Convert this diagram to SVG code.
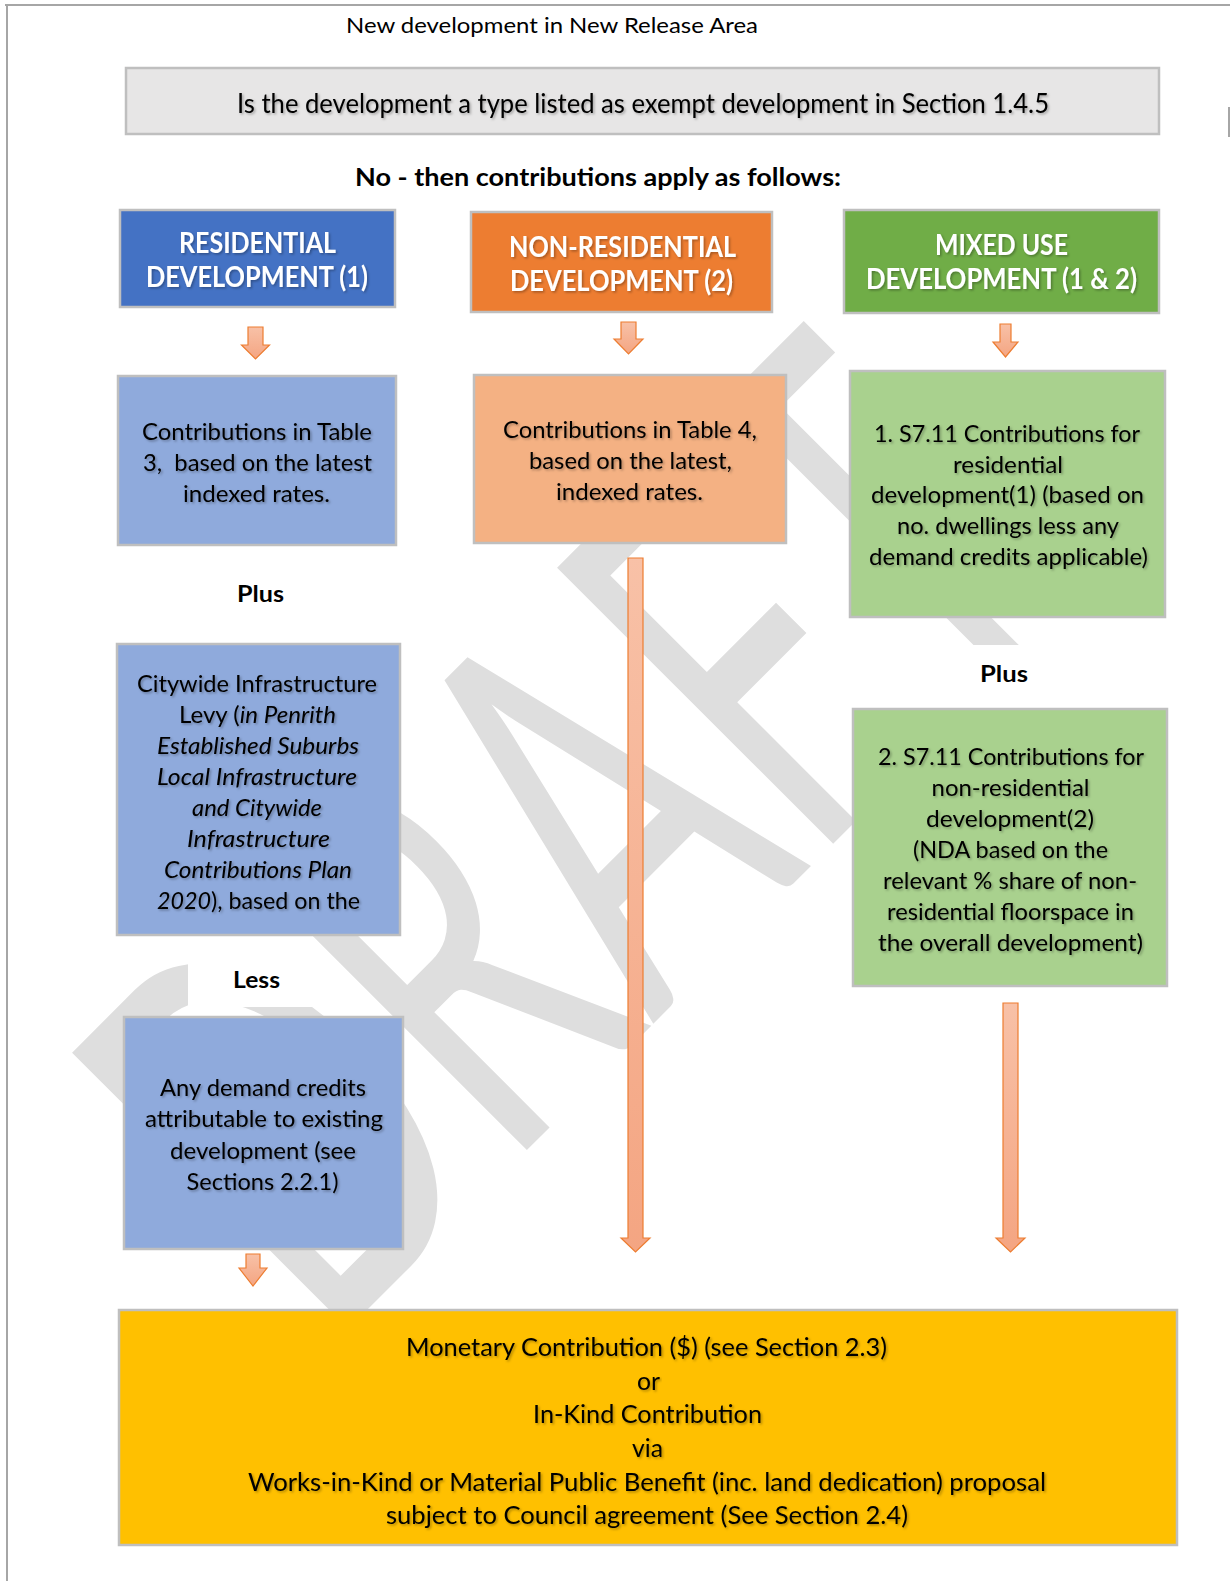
<svg xmlns="http://www.w3.org/2000/svg" width="1230" height="1581" viewBox="0 0 1230 1581">
<defs>
<linearGradient id="arrowGrad" x1="0" y1="0" x2="0" y2="1">
<stop offset="0" stop-color="#f8c1a7"/>
<stop offset="1" stop-color="#f4a582"/>
</linearGradient>
<filter id="shadow" x="-5%" y="-20%" width="110%" height="140%">
<feDropShadow dx="1.5" dy="1.5" stdDeviation="1" flood-color="#000" flood-opacity="0.3"/>
</filter>
</defs>
<style>
.box{stroke:#bfbfbf;stroke-width:2.5}
.t{font-family:Lato,"Open Sans",sans-serif;font-size:24px;fill:#000;text-anchor:middle}
.h{font-family:Lato,"Open Sans",sans-serif;font-size:28px;font-weight:700;fill:#fff;text-anchor:middle}
.b{font-family:Lato,"Open Sans",sans-serif;font-size:23px;font-weight:700;fill:#000;text-anchor:middle}
.y{font-family:Lato,"Open Sans",sans-serif;font-size:25px;fill:#000;text-anchor:middle}
.sh{filter:url(#shadow)}
.arrow{fill:url(#arrowGrad);stroke:#ed7d31;stroke-width:1.2}
</style>
<rect x="0" y="0" width="1230" height="1581" fill="#fff"/>
<!-- page border -->
<g id="page-border" fill="#a6a6a6">
<rect x="5" y="4" width="1225" height="2"/>
<rect x="6" y="4" width="2" height="1577"/>
<rect x="1228" y="107" width="2" height="30"/>
</g>
<!-- watermark -->
<g id="watermark">
<text transform="translate(705,972) rotate(-45)" text-anchor="middle" font-family="Lato,'Open Sans',sans-serif" font-size="545" fill="#dedede" textLength="1070" lengthAdjust="spacingAndGlyphs">DRAFT</text>
</g>
<g id="title">
<text class="t" x="552" y="32.5" style="font-size:21px" textLength="412" lengthAdjust="spacingAndGlyphs">New development in New Release Area</text>
</g>
<g id="question">
<rect class="box" x="126" y="68" width="1033" height="66" fill="#e7e6e6"/>
<text class="t sh" x="643" y="113" style="font-size:26px" textLength="812" lengthAdjust="spacingAndGlyphs">Is the development a type listed as exempt development in Section 1.4.5</text>
</g>
<g id="no-label">
<rect x="340" y="160" width="515" height="32" fill="#fff"/>
<text class="b" x="598" y="186" style="font-size:25px" textLength="486" lengthAdjust="spacingAndGlyphs">No - then contributions apply as follows:</text>
</g>
<g id="residential-header">
<rect class="box" x="120" y="210" width="275" height="97" fill="#4472c4"/>
<text class="h sh" x="257.5" y="253" textLength="157" lengthAdjust="spacingAndGlyphs">RESIDENTIAL</text>
<text class="h sh" x="257" y="287" textLength="222" lengthAdjust="spacingAndGlyphs">DEVELOPMENT (1)</text>
</g>
<g id="nonres-header">
<rect class="box" x="471" y="212" width="301" height="100" fill="#ed7d31"/>
<text class="h sh" x="622.5" y="257" textLength="227" lengthAdjust="spacingAndGlyphs">NON-RESIDENTIAL</text>
<text class="h sh" x="621.5" y="291" textLength="223" lengthAdjust="spacingAndGlyphs">DEVELOPMENT (2)</text>
</g>
<g id="mixed-header">
<rect class="box" x="844" y="210" width="315" height="103" fill="#70ad47"/>
<text class="h sh" x="1001.5" y="255" textLength="133" lengthAdjust="spacingAndGlyphs">MIXED USE</text>
<text class="h sh" x="1001.5" y="289" textLength="271" lengthAdjust="spacingAndGlyphs">DEVELOPMENT (1 &amp; 2)</text>
</g>
<g id="res-table3">
<rect class="box" x="118" y="376" width="278" height="169" fill="#8faadc"/>
<text class="t sh" x="257" y="440" textLength="230" lengthAdjust="spacingAndGlyphs">Contributions in Table</text>
<text class="t sh" x="257.5" y="471" style="white-space:pre" textLength="229" lengthAdjust="spacingAndGlyphs">3,  based on the latest</text>
<text class="t sh" x="256.5" y="502" textLength="147" lengthAdjust="spacingAndGlyphs">indexed rates.</text>
</g>
<g id="nonres-table4">
<rect class="box" x="474" y="375" width="312" height="168" fill="#f4b183"/>
<text class="t sh" x="630" y="438" textLength="254" lengthAdjust="spacingAndGlyphs">Contributions in Table 4,</text>
<text class="t sh" x="630.5" y="469" textLength="203" lengthAdjust="spacingAndGlyphs">based on the latest,</text>
<text class="t sh" x="629.5" y="500" textLength="147" lengthAdjust="spacingAndGlyphs">indexed rates.</text>
</g>
<g id="mixed-residential">
<rect class="box" x="850" y="371" width="315" height="246" fill="#a9d18e"/>
<text class="t sh" x="1007" y="442" textLength="266" lengthAdjust="spacingAndGlyphs">1. S7.11 Contributions for</text>
<text class="t sh" x="1008" y="472.7" textLength="110" lengthAdjust="spacingAndGlyphs">residential</text>
<text class="t sh" x="1007.5" y="503.3" textLength="273" lengthAdjust="spacingAndGlyphs">development(1) (based on</text>
<text class="t sh" x="1008" y="534" textLength="222" lengthAdjust="spacingAndGlyphs">no. dwellings less any</text>
<text class="t sh" x="1008.5" y="564.7" textLength="279" lengthAdjust="spacingAndGlyphs">demand credits applicable)</text>
</g>
<g id="plus-left">
<rect x="200" y="572" width="120" height="40" fill="#fff"/>
<text class="b" x="260.5" y="602" textLength="47" lengthAdjust="spacingAndGlyphs">Plus</text>
</g>
<g id="citywide-levy">
<rect class="box" x="117" y="644" width="283" height="291" fill="#8faadc"/>
<text class="t sh" x="257" y="692" textLength="240" lengthAdjust="spacingAndGlyphs">Citywide Infrastructure</text>
<text class="t sh" x="257.5" y="723" textLength="157" lengthAdjust="spacingAndGlyphs">Levy (<tspan font-style="italic">in Penrith</tspan></text>
<text class="t sh" x="258" y="754" font-style="italic" textLength="202" lengthAdjust="spacingAndGlyphs">Established Suburbs</text>
<text class="t sh" x="257" y="785" font-style="italic" textLength="200" lengthAdjust="spacingAndGlyphs">Local Infrastructure</text>
<text class="t sh" x="257" y="816" font-style="italic" textLength="130" lengthAdjust="spacingAndGlyphs">and Citywide</text>
<text class="t sh" x="258.5" y="847" font-style="italic" textLength="143" lengthAdjust="spacingAndGlyphs">Infrastructure</text>
<text class="t sh" x="258" y="878" font-style="italic" textLength="188" lengthAdjust="spacingAndGlyphs">Contributions Plan</text>
<text class="t sh" x="258.5" y="909" textLength="203" lengthAdjust="spacingAndGlyphs"><tspan font-style="italic">2020</tspan>), based on the</text>
</g>
<g id="less">
<rect x="188" y="952" width="137" height="55" fill="#fff"/>
<text class="b" x="256.5" y="988" textLength="47" lengthAdjust="spacingAndGlyphs">Less</text>
</g>
<g id="demand-credits">
<rect class="box" x="124" y="1017" width="279" height="232" fill="#8faadc"/>
<text class="t sh" x="263" y="1096" textLength="206" lengthAdjust="spacingAndGlyphs">Any demand credits</text>
<text class="t sh" x="264" y="1127.3" textLength="238" lengthAdjust="spacingAndGlyphs">attributable to existing</text>
<text class="t sh" x="263" y="1158.6" textLength="186" lengthAdjust="spacingAndGlyphs">development (see</text>
<text class="t sh" x="262.5" y="1190" textLength="152" lengthAdjust="spacingAndGlyphs">Sections 2.2.1)</text>
</g>
<g id="plus-right">
<rect x="930" y="645" width="150" height="50" fill="#fff"/>
<text class="b" x="1004" y="682" textLength="48" lengthAdjust="spacingAndGlyphs">Plus</text>
</g>
<g id="mixed-nonresidential">
<rect class="box" x="853" y="709" width="314" height="277" fill="#a9d18e"/>
<text class="t sh" x="1011" y="765" textLength="266" lengthAdjust="spacingAndGlyphs">2. S7.11 Contributions for</text>
<text class="t sh" x="1010.5" y="796" textLength="158" lengthAdjust="spacingAndGlyphs">non-residential</text>
<text class="t sh" x="1010" y="827" textLength="168" lengthAdjust="spacingAndGlyphs">development(2)</text>
<text class="t sh" x="1010.5" y="858" textLength="195" lengthAdjust="spacingAndGlyphs">(NDA based on the</text>
<text class="t sh" x="1010" y="889" textLength="254" lengthAdjust="spacingAndGlyphs">relevant % share of non-</text>
<text class="t sh" x="1010.5" y="920" textLength="247" lengthAdjust="spacingAndGlyphs">residential floorspace in</text>
<text class="t sh" x="1010.5" y="951" textLength="265" lengthAdjust="spacingAndGlyphs">the overall development)</text>
</g>
<g id="connectors">
<path class="arrow" d="M248,327 H263 V345 H269.5 L255.5,359 L241.5,345 H248 Z"/>
<path class="arrow" d="M621,322 H636 V339 H643 L628.5,354 L614,339 H621 Z"/>
<path class="arrow" d="M1000,324 H1011 V342 H1018 L1005.5,357 L993,342 H1000 Z"/>
<path class="arrow" d="M628,558 H643 V1238 H650 L635.5,1252 L621,1238 H628 Z"/>
<path class="arrow" d="M1003,1003 H1018 V1238 H1025 L1010.5,1252 L996,1238 H1003 Z"/>
<path class="arrow" d="M246,1254 H260 V1268 H267 L253,1286 L239,1268 H246 Z"/>
</g>
<g id="outcome">
<rect class="box" x="119" y="1310" width="1058" height="235" fill="#ffc000"/>
<text class="y sh" x="646.5" y="1356" textLength="481" lengthAdjust="spacingAndGlyphs">Monetary Contribution ($) (see Section 2.3)</text>
<text class="y sh" x="648.5" y="1389.6" textLength="23" lengthAdjust="spacingAndGlyphs">or</text>
<text class="y sh" x="647.5" y="1423" textLength="229" lengthAdjust="spacingAndGlyphs">In-Kind Contribution</text>
<text class="y sh" x="647.5" y="1457" textLength="31" lengthAdjust="spacingAndGlyphs">via</text>
<text class="y sh" x="647" y="1490.5" textLength="798" lengthAdjust="spacingAndGlyphs">Works-in-Kind or Material Public Benefit (inc. land dedication) proposal</text>
<text class="y sh" x="647" y="1524" textLength="522" lengthAdjust="spacingAndGlyphs">subject to Council agreement (See Section 2.4)</text>
</g>
</svg>
